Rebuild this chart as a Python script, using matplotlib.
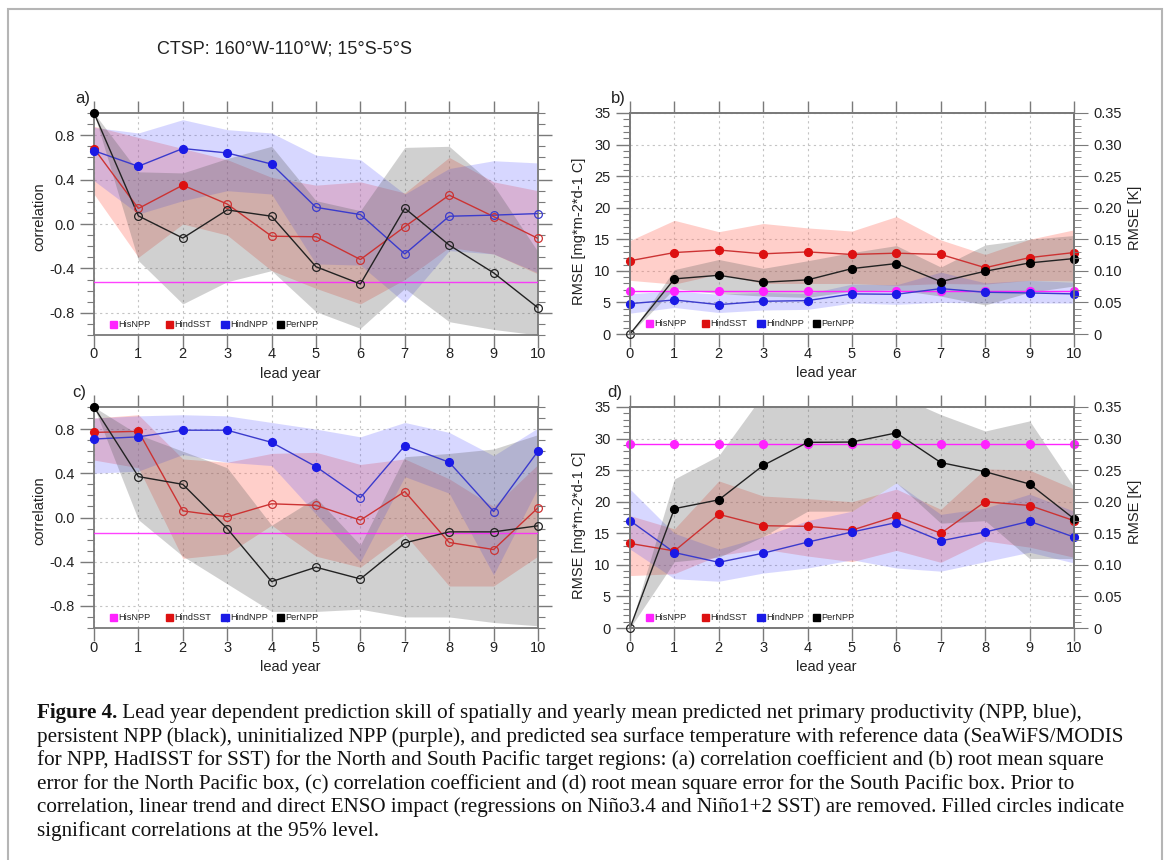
import matplotlib
matplotlib.use("Agg")
import matplotlib.pyplot as plt
import numpy as np
from matplotlib.patches import Rectangle

plt.rcParams['font.family'] = ['Liberation Sans', 'DejaVu Sans']
plt.rcParams['axes.unicode_minus'] = False

# ---------------- data ----------------
lead = [0, 1, 2, 3, 4, 5, 6, 7, 8, 9, 10]
series_names = ['HisNPP', 'HindSST', 'HindNPP', 'PerNPP']

# panel a: correlation
a_his = -0.52
a_sst = [0.68, 0.14, 0.35, 0.18, -0.11, -0.115, -0.32, -0.024, 0.26, 0.067, -0.13]
a_sst_sig = [1, 0, 1, 0, 0, 0, 0, 0, 0, 0, 0]
a_sst_lo = [0.27, -0.30, 0.00, -0.10, -0.42, -0.58, -0.72, -0.50, -0.21, -0.27, -0.45]
a_sst_hi = [0.88, 0.78, 0.68, 0.58, 0.42, 0.35, 0.38, 0.28, 0.60, 0.38, 0.30]
a_npp = [0.66, 0.52, 0.68, 0.64, 0.54, 0.15, 0.085, -0.27, 0.07, 0.08, 0.094]
a_npp_sig = [1, 1, 1, 1, 1, 0, 0, 0, 0, 0, 0]
a_npp_lo = [0.39, 0.09, 0.21, 0.30, 0.27, -0.36, -0.37, -0.71, -0.24, -0.27, -0.44]
a_npp_hi = [0.87, 0.82, 0.94, 0.85, 0.82, 0.62, 0.58, 0.27, 0.50, 0.57, 0.55]
a_per = [1.0, 0.073, -0.127, 0.127, 0.07, -0.385, -0.54, 0.142, -0.19, -0.44, -0.755]
a_per_sig = [1, 0, 0, 0, 0, 0, 0, 0, 0, 0, 0]
a_per_lo = [1.0, -0.33, -0.72, -0.52, -0.42, -0.79, -0.94, -0.58, -0.88, -0.95, -1.0]
a_per_hi = [1.0, 0.47, 0.46, 0.59, 0.70, 0.21, 0.12, 0.69, 0.70, 0.35, -0.25]

# panel b: RMSE (NPP in mg m-2 d-1, SST in K)
b_his = [6.8, 6.8, 6.8, 6.8, 6.8, 6.8, 6.8, 6.8, 6.8, 6.8, 6.8]
b_sst = [0.116, 0.129, 0.133, 0.127, 0.130, 0.126, 0.128, 0.126, 0.105, 0.121, 0.129]
b_sst_lo = [0.085, 0.079, 0.095, 0.080, 0.080, 0.080, 0.077, 0.080, 0.079, 0.085, 0.084]
b_sst_hi = [0.148, 0.180, 0.162, 0.175, 0.168, 0.163, 0.186, 0.149, 0.126, 0.150, 0.165]
b_npp = [4.81, 5.39, 4.65, 5.18, 5.29, 6.35, 6.29, 7.19, 6.61, 6.5, 6.35]
b_npp_lo = [3.3, 4.2, 3.4, 3.8, 3.9, 4.9, 4.7, 5.0, 4.9, 4.9, 4.9]
b_npp_hi = [6.4, 6.8, 6.3, 6.6, 6.4, 7.9, 7.8, 9.8, 8.1, 8.5, 8.2]
b_per = [0.0, 8.73, 9.3, 8.2, 8.57, 10.36, 11.16, 8.3, 9.94, 11.26, 11.95]
b_per_sig = [0, 1, 1, 1, 1, 1, 1, 1, 1, 1, 1]
b_per_lo = [0.0, 7.2, 6.4, 6.0, 5.8, 6.8, 7.0, 6.0, 4.6, 6.6, 7.6]
b_per_hi = [0.0, 10.2, 11.8, 10.4, 11.6, 12.9, 14.0, 10.6, 14.1, 15.0, 15.6]

# panel c: correlation
c_his = -0.136
c_sst = [0.77, 0.78, 0.06, 0.006, 0.124, 0.11, -0.024, 0.235, -0.226, -0.29, 0.088]
c_sst_sig = [1, 1, 0, 0, 0, 0, 0, 0, 0, 0, 0]
c_sst_lo = [0.52, 0.45, -0.37, -0.33, -0.07, -0.35, -0.45, -0.15, -0.62, -0.62, -0.35]
c_sst_hi = [0.90, 0.93, 0.53, 0.50, 0.58, 0.59, 0.48, 0.53, 0.35, 0.10, 0.48]
c_npp = [0.71, 0.73, 0.79, 0.79, 0.68, 0.46, 0.18, 0.65, 0.50, 0.054, 0.60]
c_npp_sig = [1, 1, 1, 1, 1, 1, 0, 1, 1, 0, 1]
c_npp_lo = [0.40, 0.42, 0.57, 0.50, 0.47, 0.03, -0.40, 0.37, 0.22, -0.52, 0.27]
c_npp_hi = [0.90, 0.92, 0.93, 0.92, 0.86, 0.80, 0.73, 0.86, 0.77, 0.56, 0.81]
c_per = [1.0, 0.37, 0.30, -0.10, -0.58, -0.45, -0.556, -0.23, -0.13, -0.13, -0.075]
c_per_sig = [1, 0, 0, 0, 0, 0, 0, 0, 0, 0, 0]
c_per_lo = [1.0, -0.02, -0.35, -0.60, -0.85, -0.85, -0.83, -0.90, -0.90, -0.95, -0.98]
c_per_hi = [1.0, 0.75, 0.60, 0.45, -0.07, 0.18, -0.25, 0.55, 0.58, 0.62, 0.75]

# panel d: RMSE
d_his = [29.2, 29.2, 29.2, 29.2, 29.2, 29.2, 29.2, 29.2, 29.2, 29.2, 29.2]
d_sst = [0.134, 0.122, 0.180, 0.162, 0.161, 0.155, 0.177, 0.150, 0.200, 0.194, 0.170]
d_sst_lo = [0.083, 0.086, 0.115, 0.125, 0.114, 0.105, 0.123, 0.104, 0.138, 0.128, 0.112]
d_sst_hi = [0.178, 0.157, 0.233, 0.209, 0.205, 0.200, 0.220, 0.188, 0.252, 0.250, 0.220]
d_npp = [17.0, 11.95, 10.4, 11.85, 13.6, 15.2, 16.7, 13.8, 15.2, 16.9, 14.4]
d_npp_lo = [12.5, 7.8, 7.4, 8.7, 9.5, 10.8, 9.5, 9.0, 10.5, 12.0, 10.3]
d_npp_hi = [22.0, 15.0, 12.5, 14.5, 17.0, 18.5, 23.0, 18.0, 19.0, 21.2, 18.5]
d_per = [0.0, 18.9, 20.3, 25.75, 29.4, 29.45, 30.9, 26.2, 24.75, 22.8, 17.3]
d_per_sig = [0, 1, 1, 1, 1, 1, 1, 1, 1, 1, 1]
d_per_lo = [0.0, 10.5, 11.2, 14.5, 18.5, 18.5, 23.0, 16.6, 17.0, 11.0, 11.0]
d_per_hi = [0.0, 23.6, 27.3, 37.0, 37.0, 37.0, 36.9, 33.8, 31.2, 32.8, 22.3]

title_text = 'CTSP: 160°W-110°W; 15°S-5°S'
caption_bold = 'Figure 4.'
caption_lines = [
    ' Lead year dependent prediction skill of spatially and yearly mean predicted net primary productivity (NPP, blue),',
    'persistent NPP (black), uninitialized NPP (purple), and predicted sea surface temperature with reference data (SeaWiFS/MODIS',
    'for NPP, HadISST for SST) for the North and South Pacific target regions: (a) correlation coefficient and (b) root mean square',
    'error for the North Pacific box, (c) correlation coefficient and (d) root mean square error for the South Pacific box. Prior to',
    'correlation, linear trend and direct ENSO impact (regressions on Niño3.4 and Niño1+2 SST) are removed. Filled circles indicate',
    'significant correlations at the 95% level.',
]

# ---------------- styles ----------------
W, H = 1167, 860
C_HIS = '#ff22ff'
C_SST = '#dd1111'
C_NPP = '#1a1ae6'
C_PER = '#000000'
L_SST = '#cc3333'
L_NPP = '#3b3bcc'
F_SST = (1.0, 0.42, 0.36, 0.32)
F_NPP = (0.30, 0.30, 1.0, 0.22)
F_PER = (0.35, 0.35, 0.35, 0.28)
SPINE = '#7a7a7a'
TXT = '#222222'
MS = 5.6

fig = plt.figure(figsize=(W / 100, H / 100), dpi=100)


def rect(l, t, r, b):
    return [l / W, 1 - b / H, (r - l) / W, (b - t) / H]


def style_axes(ax, right=True):
    for s in ax.spines.values():
        s.set_color(SPINE)
        s.set_linewidth(1.3)
    ax.tick_params(axis='both', which='both', direction='out', colors=SPINE,
                   labelcolor=TXT, labelsize=10.5)
    ax.tick_params(axis='x', which='major', length=9, top=True, bottom=True, width=1, pad=0)
    ax.tick_params(axis='y', which='major', length=10, left=True, right=right, width=1, pad=4)
    ax.tick_params(axis='y', which='minor', length=5, left=True, right=right, width=0.8)
    ax.grid(True, which='major', linestyle=(0, (2, 3)), color='#c4c4c4', linewidth=0.8)
    ax.set_axisbelow(True)
    ax.set_xlim(0, 10)
    ax.set_xticks(lead)
    ax.set_xlabel('lead year', fontsize=10.5, color=TXT, labelpad=4, x=0.441)


def draw_series(ax, x, y, sig, lcol, mcol, trans=None, ms=MS):
    kw = {}
    if trans is not None:
        kw['transform'] = trans
    ax.plot(x, y, color=lcol, lw=1.0, zorder=4, **kw)
    xs = np.array(x)
    ys = np.array(y)
    sg = np.array(sig, dtype=bool)
    ax.plot(xs[sg], ys[sg], ls='', marker='o', ms=ms, color=mcol, mec=mcol, zorder=5,
            clip_on=False, **kw)
    ax.plot(xs[~sg], ys[~sg], ls='', marker='o', ms=ms, mfc='none', mec=lcol, mew=0.9,
            zorder=5, clip_on=False, **kw)


def legend_row(ax, x0):
    cols = [C_HIS, C_SST, C_NPP, C_PER]
    for i, (nm, col) in enumerate(zip(series_names, cols)):
        xx = x0 + i * 0.1255
        ax.add_patch(Rectangle((xx, 0.033), 0.016, 0.03, transform=ax.transAxes,
                               color=col, zorder=6, clip_on=False))
        ax.text(xx + 0.019, 0.048, nm, transform=ax.transAxes, fontsize=6.6,
                va='center', ha='left', color=TXT, zorder=6)


def corr_panel(rc, label, lab_dx, his, sst, sst_sig, sst_lo, sst_hi, npp, npp_sig, npp_lo,
               npp_hi, per, per_sig, per_lo, per_hi):
    ax = fig.add_axes(rect(*rc))
    style_axes(ax)
    ax.set_ylim(-1, 1)
    ax.set_yticks([-0.8, -0.4, 0.0, 0.4, 0.8])
    ax.set_yticklabels(['-0.8', '-0.4', '0.0', '0.4', '0.8'])
    ax.set_yticks(np.arange(-1.0, 1.01, 0.1), minor=True)
    ax.set_ylabel('correlation', fontsize=10.5, color=TXT, labelpad=2, y=0.533)
    ax.fill_between(lead, sst_lo, sst_hi, color=F_SST, lw=0, zorder=2)
    ax.fill_between(lead, npp_lo, npp_hi, color=F_NPP, lw=0, zorder=2)
    ax.fill_between(lead, per_lo, per_hi, color=F_PER, lw=0, zorder=2)
    ax.axhline(his, color=C_HIS, lw=1.0, alpha=0.85, zorder=3)
    draw_series(ax, lead, sst, sst_sig, L_SST, C_SST)
    draw_series(ax, lead, npp, npp_sig, L_NPP, C_NPP)
    draw_series(ax, lead, per, per_sig, '#222222', C_PER)
    legend_row(ax, 0.036)
    ax.text(lab_dx, 1.03, label, transform=ax.transAxes, fontsize=12, ha='right',
            va='bottom', color=TXT)
    return ax


def rmse_panel(rc, label, lab_dx, his, sst, sst_lo, sst_hi, npp, npp_lo, npp_hi, per, per_sig,
               per_lo, per_hi):
    ax = fig.add_axes(rect(*rc))
    style_axes(ax, right=False)
    ax.set_ylim(0, 35)
    ax.set_yticks(np.arange(0, 36, 5))
    ax.set_yticks(np.arange(0, 36, 1), minor=True)
    ax.set_ylabel('RMSE [mg*m-2*d-1 C]', fontsize=10.5, color=TXT, labelpad=6, y=0.464)
    ax2 = ax.twinx()
    ax2.set_ylim(0, 0.35)
    ax2.set_yticks(np.arange(0, 0.351, 0.05))
    ax2.set_yticklabels(['0', '0.05', '0.10', '0.15', '0.20', '0.25', '0.30', '0.35'])
    ax2.set_yticks(np.arange(0, 0.351, 0.01), minor=True)
    for s in ax2.spines.values():
        s.set_color(SPINE)
        s.set_linewidth(1.3)
    ax2.tick_params(axis='y', which='both', direction='out', colors=SPINE,
                    labelcolor=TXT, labelsize=10.5)
    ax2.tick_params(axis='y', which='major', length=10, pad=4)
    ax2.tick_params(axis='y', which='minor', length=5)
    ax2.set_ylabel('RMSE [K]', fontsize=10.5, color=TXT, labelpad=4, y=0.527)
    t2 = ax2.transData
    ax.fill_between(lead, sst_lo, sst_hi, color=F_SST, lw=0, zorder=2, transform=t2)
    ax.fill_between(lead, npp_lo, npp_hi, color=F_NPP, lw=0, zorder=2)
    ax.fill_between(lead, per_lo, per_hi, color=F_PER, lw=0, zorder=2)
    ax.plot(lead, his, color=C_HIS, lw=1.0, marker='o', ms=MS, zorder=3, clip_on=False)
    draw_series(ax, lead, sst, [1] * len(lead), L_SST, C_SST, trans=t2)
    draw_series(ax, lead, npp, [1] * len(lead), L_NPP, C_NPP)
    draw_series(ax, lead, per, per_sig, '#222222', C_PER)
    legend_row(ax, 0.036)
    ax.text(lab_dx, 1.03, label, transform=ax.transAxes, fontsize=12, ha='right',
            va='bottom', color=TXT)
    return ax


corr_panel((94, 113, 538, 335), 'a)', -0.009, a_his, a_sst, a_sst_sig, a_sst_lo, a_sst_hi,
           a_npp, a_npp_sig, a_npp_lo, a_npp_hi, a_per, a_per_sig, a_per_lo, a_per_hi)
rmse_panel((630, 113, 1074, 334), 'b)', -0.009, b_his, b_sst, b_sst_lo, b_sst_hi,
           b_npp, b_npp_lo, b_npp_hi, b_per, b_per_sig, b_per_lo, b_per_hi)
corr_panel((94, 407, 538, 628), 'c)', -0.018, c_his, c_sst, c_sst_sig, c_sst_lo, c_sst_hi,
           c_npp, c_npp_sig, c_npp_lo, c_npp_hi, c_per, c_per_sig, c_per_lo, c_per_hi)
rmse_panel((630, 407, 1074, 628), 'd)', -0.017, d_his, d_sst, d_sst_lo, d_sst_hi,
           d_npp, d_npp_lo, d_npp_hi, d_per, d_per_sig, d_per_lo, d_per_hi)

# title
fig.text(157 / W, 1 - 49 / H, title_text, fontsize=13, ha='left', va='center', color=TXT)

# outer frame
fig.add_artist(Rectangle((8 / W, -0.05), (1162 - 8) / W, 1.05 - 9 / H, transform=fig.transFigure,
                         fill=False, ec='#b5b5b5', lw=1.5))

# caption
cap_fs = 15.2
y0 = 713
fig.canvas.draw()
r = fig.canvas.get_renderer()
tb = fig.text(37 / W, 1 - y0 / H, caption_bold, fontsize=cap_fs, family='Liberation Serif',
              weight='bold', ha='left', va='center', color='#111111')
bw = tb.get_window_extent(renderer=r).width
for i, line in enumerate(caption_lines):
    xx = 37 + (bw if i == 0 else 0)
    fig.text(xx / W, 1 - (y0 + i * 23.6) / H, line, fontsize=cap_fs, family='Liberation Serif',
             ha='left', va='center', color='#111111')

fig.savefig('out.png', dpi=100)
